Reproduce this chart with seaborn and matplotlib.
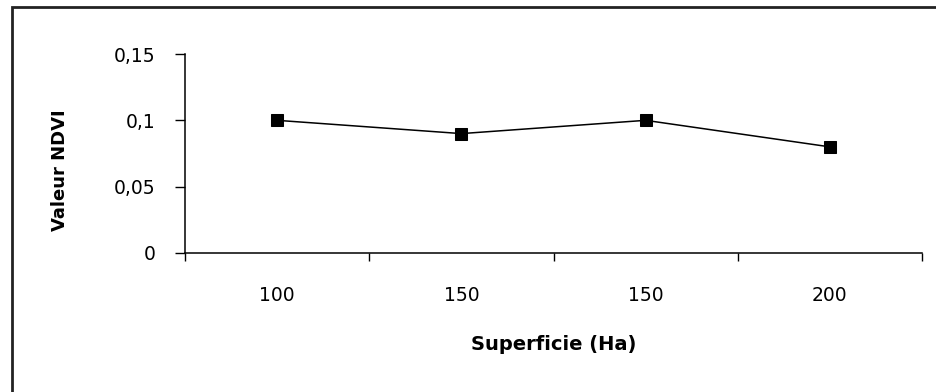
import matplotlib
matplotlib.use("Agg")
import matplotlib.pyplot as plt
import seaborn as sns
import pandas as pd
from matplotlib.patches import Rectangle
from matplotlib.ticker import FixedLocator

categories = ["100", "150", "150", "200"]
ndvi = [0.10, 0.09, 0.10, 0.08]
yticks = [0, 0.05, 0.10, 0.15]
ytick_labels = ["0", "0,05", "0,1", "0,15"]

sns.set_theme(style="white")
plt.rcParams["font.family"] = ["DejaVu Sans"]
plt.rcParams["text.color"] = "black"
plt.rcParams["axes.labelcolor"] = "black"
plt.rcParams["xtick.color"] = "black"
plt.rcParams["ytick.color"] = "black"

df = pd.DataFrame({"pos": list(range(len(categories))), "ndvi": ndvi})

fig = plt.figure(figsize=(9.36, 3.92), dpi=100)
ax = fig.add_axes([185/936, 1-253/392, (922-185)/936, (253-54)/392])

sns.lineplot(data=df, x="pos", y="ndvi", ax=ax, color="black", linewidth=1.1,
             marker="s", markersize=9, markeredgecolor="black", markerfacecolor="black")

ax.set_xlim(-0.5, len(categories) - 0.5)
ax.set_ylim(0, 0.15)
ax.set_xticks(range(len(categories)))
ax.set_xticklabels(categories, fontsize=13.5)
ax.xaxis.set_minor_locator(FixedLocator([i - 0.5 for i in range(len(categories) + 1)]))
ax.tick_params(axis="x", which="major", length=0, pad=24, labelcolor="black")
ax.tick_params(axis="x", which="minor", length=6, width=1, color="black", direction="out", bottom=True)
ax.set_yticks(yticks)
ax.set_yticklabels(ytick_labels, fontsize=13.5)
ax.tick_params(axis="y", which="major", length=7, width=1, color="black", direction="out", left=True,
               pad=14, labelcolor="black")

for s in ["top", "right"]:
    ax.spines[s].set_visible(False)
for s in ["left", "bottom"]:
    ax.spines[s].set_color("black")
    ax.spines[s].set_linewidth(1.1)

ax.set_xlabel("Superficie (Ha)", fontsize=14, fontweight="bold", labelpad=21, color="black")
ax.set_ylabel("Valeur NDVI", fontsize=13, fontweight="bold", color="black")
ax.yaxis.set_label_coords(-0.157, 0.415)

# outer frame (top and left visible, as in the cropped reference)
fig.patches.append(Rectangle((12/936, -0.1), 1.2, 1 - 7/392 + 0.1, transform=fig.transFigure,
                             fill=False, edgecolor="#222222", linewidth=2.0))

fig.savefig("out.png", dpi=100)
